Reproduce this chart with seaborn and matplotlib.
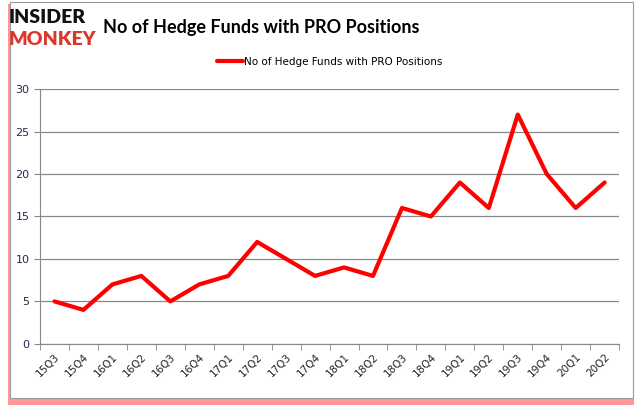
import matplotlib
matplotlib.use("Agg")
from matplotlib import pyplot as plt
import matplotlib.patches as mpatches
import numpy as np
import pandas as pd
import seaborn as sns

quarters = ["15Q3", "15Q4", "16Q1", "16Q2", "16Q3", "16Q4", "17Q1", "17Q2", "17Q3", "17Q4",
            "18Q1", "18Q2", "18Q3", "18Q4", "19Q1", "19Q2", "19Q3", "19Q4", "20Q1", "20Q2"]
funds = [5, 4, 7, 8, 5, 7, 8, 12, 10, 8, 9, 8, 16, 15, 19, 16, 27, 20, 16, 19]
series_name = "No of Hedge Funds with PRO Positions"

df = pd.DataFrame({"pos": np.arange(len(quarters)), "funds": funds})

sns.set_style("white")
plt.rcParams["font.family"] = ["DejaVu Sans"]
plt.rcParams["text.color"] = "black"

fig = plt.figure(figsize=(6.35, 4.05), dpi=100)
ax = fig.add_axes([0.063, 0.151, 0.912, 0.629])

# frame with red shadow like the reference image
fig.patches.append(mpatches.Rectangle((0.012, 0.0), 0.986, 0.99, transform=fig.transFigure,
                                      facecolor="#ff3030", edgecolor="none", alpha=0.5, zorder=-2))
fig.patches.append(mpatches.Rectangle((0.015, 0.017), 0.982, 0.978, transform=fig.transFigure,
                                      facecolor="white", edgecolor="#999999", lw=0.8, zorder=-1))

sns.lineplot(data=df, x="pos", y="funds", ax=ax, color="#ff0000", lw=3, label=series_name)

ax.set_xlim(-0.5, len(quarters) - 0.5)
ax.set_ylim(0, 30)
ax.set_yticks(range(0, 31, 5))
ax.yaxis.grid(True, color="#888888", lw=0.9)
ax.set_xticks(range(len(quarters)))
ax.set_xticklabels(quarters, rotation=45, fontsize=7.5, color="#222222")
ax.set_xticks(np.arange(-0.5, len(quarters), 1), minor=True)
ax.tick_params(axis="x", which="major", length=0, pad=6)
ax.tick_params(axis="x", which="minor", length=4, color="#888888", direction="out")
ax.tick_params(axis="y", labelsize=8, length=4, color="#888888", direction="out")
ax.yaxis.set_ticks_position("left")
ax.xaxis.set_ticks_position("bottom")
for lbl in ax.get_yticklabels():
    lbl.set_color("#1f2d4a")
for lbl in ax.get_xticklabels():
    lbl.set_horizontalalignment("right")
    lbl.set_rotation_mode("anchor")
ax.set_xlabel("")
ax.set_ylabel("")
for side in ["top", "right"]:
    ax.spines[side].set_visible(False)
for side in ["left", "bottom"]:
    ax.spines[side].set_color("#888888")

leg = ax.legend(loc="lower center", bbox_to_anchor=(0.5, 1.05), frameon=False, fontsize=7.5,
                handlelength=2.5, handletextpad=0.1)
for t in leg.get_texts():
    t.set_color("black")

fig.text(0.162, 0.933, "No of Hedge Funds with PRO Positions", ha="left", va="center",
         fontsize=13, fontweight="bold", family="Lato", color="black")
fig.text(0.014, 0.957, "INSIDER", ha="left", va="center", fontsize=14, fontweight="heavy",
         family="Lato", color="#111111")
fig.text(0.014, 0.903, "MONKEY", ha="left", va="center", fontsize=14, fontweight="heavy",
         family="Lato", color="#d9382a")

fig.savefig("out.png", dpi=100)
